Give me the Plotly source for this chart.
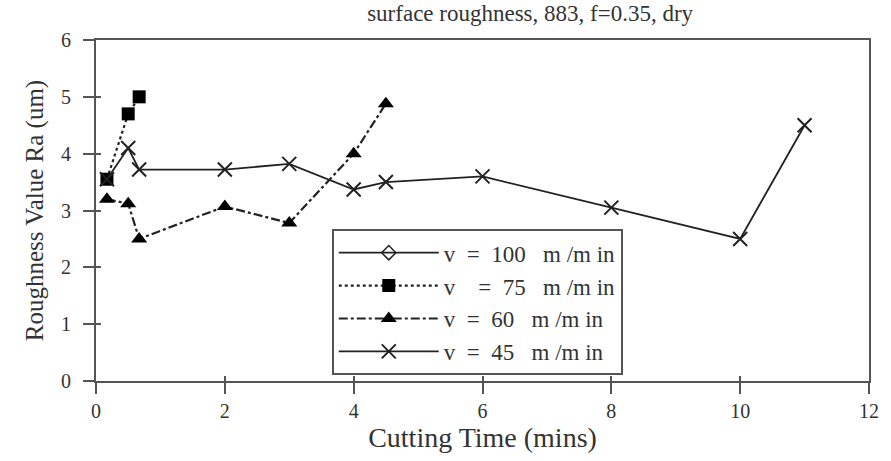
import plotly.graph_objects as go

# Data
t100 = []
ra100 = []
t75 = [0.17, 0.5, 0.67]
ra75 = [3.55, 4.7, 5.0]
t60 = [0.17, 0.5, 0.67, 2, 3, 4, 4.5]
ra60 = [3.2, 3.12, 2.5, 3.07, 2.78, 4.0, 4.88]
t45 = [0.17, 0.5, 0.67, 2, 3, 4, 4.5, 6, 8, 10, 11]
ra45 = [3.55, 4.1, 3.72, 3.72, 3.82, 3.37, 3.5, 3.6, 3.05, 2.5, 4.5]
x_ticks = [0, 2, 4, 6, 8, 10, 12]
y_ticks = [0, 1, 2, 3, 4, 5, 6]

INK = "#222"
FONT = "Liberation Serif"

fig = go.Figure()
fig.add_trace(go.Scatter(
    x=t100 if t100 else [None], y=ra100 if ra100 else [None],
    mode="lines+markers", name="v  =  100   m /m in",
    line=dict(color=INK, width=1.8),
    marker=dict(symbol="diamond-open", size=11, color=INK, line=dict(width=1.5)),
))
fig.add_trace(go.Scatter(
    x=t75, y=ra75, mode="lines+markers", name="v    =  75   m /m in",
    line=dict(color=INK, width=2.2, dash="dot"),
    marker=dict(symbol="square", size=13, color="black"),
))
fig.add_trace(go.Scatter(
    x=t60, y=ra60, mode="lines+markers", name="v  =  60   m /m in",
    line=dict(color=INK, width=2.2, dash="dashdot"),
    marker=dict(symbol="triangle-up", size=14, color="black"),
))
fig.add_trace(go.Scatter(
    x=t45, y=ra45, mode="lines+markers", name="v  =  45   m /m in",
    line=dict(color=INK, width=1.8),
    marker=dict(symbol="x-thin", size=14, color=INK, line=dict(width=2, color=INK)),
))

axis_common = dict(
    showline=True, linecolor="#555", linewidth=2, mirror=True,
    showgrid=False, zeroline=False,
    ticks="outside", ticklen=11, tickwidth=1.5, tickcolor="#555",
    tickfont=dict(family=FONT, size=20, color="#333"),
)

fig.update_layout(
    width=891, height=461,
    margin=dict(l=96, r=19, t=40, b=80),
    paper_bgcolor="white", plot_bgcolor="white",
    font=dict(family=FONT, color="#333"),
    title=dict(text="surface roughness, 883, f=0.35, dry", x=0.595, xanchor="center",
               y=0.99, yanchor="top", font=dict(family=FONT, size=23, color="#333")),
    xaxis=dict(range=[0, 12], tickvals=x_ticks,
               title=dict(text="Cutting Time (mins)", font=dict(family=FONT, size=28, color="#333"), standoff=0),
               **axis_common),
    yaxis=dict(range=[0, 6], tickvals=y_ticks, ticklabelstandoff=8,
               title=dict(text="Roughness Value Ra (um)", font=dict(family=FONT, size=25, color="#333"), standoff=10),
               **axis_common),
    yaxis2=dict(range=[0, 6], tickvals=y_ticks, overlaying="y", side="left", anchor="x",
                showticklabels=False, ticks="inside", ticklen=5, tickwidth=1.5, tickcolor="#555",
                showgrid=False, zeroline=False, showline=False),
    xaxis2=dict(range=[0, 12], tickvals=x_ticks, overlaying="x", side="bottom", anchor="y",
                showticklabels=False, ticks="inside", ticklen=5, tickwidth=1.5, tickcolor="#555",
                showgrid=False, zeroline=False, showline=False),
    legend=dict(x=0.305, y=0.445, xanchor="left", yanchor="top",
                bgcolor="white", bordercolor="#555", borderwidth=2,
                font=dict(family=FONT, size=23, color="#333"),
                itemwidth=100, tracegroupgap=0),
    showlegend=True,
)
# invisible trace to activate the secondary axes for the crossing ticks
fig.add_trace(go.Scatter(x=[None], y=[None], xaxis="x2", yaxis="y2", showlegend=False, hoverinfo="skip"))

fig.write_html("out.html")
